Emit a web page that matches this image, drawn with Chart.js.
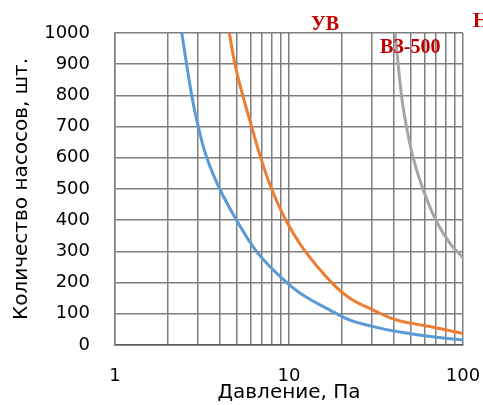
<!DOCTYPE html>
<html>
<head>
<meta charset="utf-8">
<script src="https://cdn.jsdelivr.net/npm/chart.js@4.4.1/dist/chart.umd.min.js"></script>
<style>
  html, body { margin: 0; padding: 0; background: #fff; overflow: hidden; }
  canvas { display: block; }
</style>
</head>
<body>
<canvas id="myChart" width="483" height="405"></canvas>
<script>
// pressure, Pa  ->  number of pumps
const pressureUV = [2.42, 2.76, 3.01, 3.37, 4.0, 5.0, 6.5, 8.88, 11.6, 17.2, 22.4, 30.5, 41.6, 64.6, 100];
const pumpsUV = [1000, 800, 700, 600, 500, 400, 300, 220, 166, 112, 80, 59, 43, 27, 16];

const pressureVZ = [4.54, 4.89, 5.42, 6.1, 6.88, 7.95, 9.6, 12.4, 17.6, 22.4, 30.5, 41.6, 64.6, 100];
const pumpsVZ = [1000, 900, 800, 700, 600, 500, 400, 300, 200, 150, 112, 80, 59, 37];

const pressureN = [40.7, 44.4, 47.5, 51.8, 59.1, 70.6, 84.2, 100];
const pumpsN = [1000, 796, 695, 598, 497, 395, 326, 280];

const xTickLabels = [1, 10, 100];
const curveNames = ["УВ", "ВЗ-500", "Н"];
const curveColors = ["#5b9bd5", "#ed7d31", "#a5a5a5"];

// where each curve name is written (pressure, pumps)
const namePos = [[16.1, 1026], [33.3, 952], [114, 1035]];

const toPoints = (xs, ys) => xs.map((x, i) => ({ x: x, y: ys[i] }));

const series = [
  toPoints(pressureUV, pumpsUV),
  toPoints(pressureVZ, pumpsVZ),
  toPoints(pressureN, pumpsN),
];

const gridColor = "#7f7f7f";
const tickFont = { family: "DejaVu Sans", size: 18 };
const titleFont = { family: "DejaVu Sans", size: 20 };

// curve names in dark red serif, placed over the plot
const curveNamesPlugin = {
  id: "curveNames",
  afterDraw(chart) {
    const c = chart.ctx;
    const xs = chart.scales.x, ys = chart.scales.y;
    c.save();
    c.fillStyle = "#c00000";
    c.font = "bold 20px 'Liberation Serif'";
    c.textBaseline = "middle";
    c.textAlign = "left";
    namePos.forEach((p, i) => {
      const px = xs.getPixelForValue(p[0]);
      const py = ys.getPixelForValue(p[1]);
      const tx = i === 0 ? px - c.measureText(curveNames[i]).width / 2 : px;
      c.fillText(curveNames[i], tx, py);
    });
    c.restore();
  },
};

const data = {
  datasets: series.map((pts, i) => ({
    label: curveNames[i],
    data: pts,
    showLine: true,
    borderColor: curveColors[i],
    backgroundColor: curveColors[i],
    borderWidth: 3,
    pointRadius: 0,
    tension: 0.4,
    clip: 0,
  })),
};

const config = {
  type: "scatter",
  data: data,
  options: {
    responsive: false,
    animation: false,
    layout: {
      padding: { top: 33, right: 20, left: 0, bottom: 0 },
    },
    plugins: {
      legend: { display: false },
      tooltip: { enabled: false },
    },
    scales: {
      x: {
        type: "logarithmic",
        min: 1,
        max: 100,
        afterFit(scale) {
          scale.height = 60;
          scale.paddingLeft = 0;
          scale.paddingRight = 0;
        },
        afterBuildTicks(scale) {
          // 1..9, 10..90, 100 so every minor line is drawn
          const t = [];
          for (let d = 1; d < 100; d *= 10) {
            for (let k = 1; k < 10; k++) t.push({ value: k * d });
          }
          t.push({ value: 100 });
          scale.ticks = t;
        },
        grid: { color: gridColor, lineWidth: 1.5, drawTicks: false },
        border: { color: "#595959", width: 1.5 },
        ticks: {
          autoSkip: false,
          maxRotation: 0,
          padding: 21,
          color: "#000",
          font: tickFont,
          callback: (v) => (xTickLabels.includes(v) ? String(v) : ""),
        },
        title: {
          display: true,
          text: "Давление, Па",
          color: "#000",
          font: titleFont,
          padding: { top: 0, bottom: 0 },
        },
      },
      y: {
        min: 0,
        max: 1000,
        afterFit(scale) {
          scale.width = 115;
          scale.paddingTop = 0;
          scale.paddingBottom = 0;
        },
        grid: { color: gridColor, lineWidth: 1.5, drawTicks: false },
        border: { color: gridColor, width: 1.5 },
        ticks: {
          stepSize: 100,
          padding: 25,
          color: "#000",
          font: tickFont,
          callback: (v) => String(v),
        },
        title: {
          display: true,
          text: "Количество насосов, шт.",
          color: "#000",
          font: titleFont,
          padding: { top: 10, bottom: 0 },
        },
      },
    },
  },
  plugins: [curveNamesPlugin],
};

const myChart = new Chart(document.getElementById("myChart").getContext("2d"), config);
</script>
</body>
</html>
